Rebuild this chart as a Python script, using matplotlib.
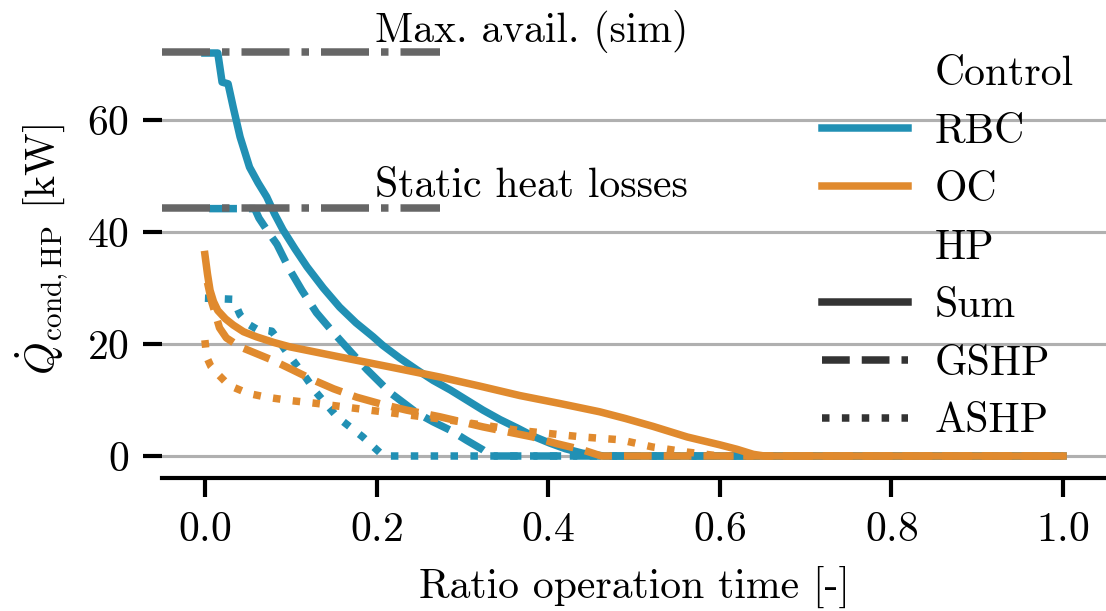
import matplotlib
matplotlib.use("Agg")
import matplotlib.pyplot as plt
from matplotlib.lines import Line2D

# Duration curves of condenser heat flow
rbc_sum_x = [0.0, 0.015, 0.02, 0.027, 0.033, 0.041, 0.052, 0.062, 0.072, 0.081, 0.091, 0.105,
             0.119, 0.138, 0.157, 0.176, 0.196, 0.207, 0.227, 0.247, 0.266, 0.286, 0.305,
             0.324, 0.344, 0.364, 0.383, 0.402, 0.42, 0.44, 0.465, 1.0]
rbc_sum_y = [72.0, 72.0, 66.8, 66.5, 62.3, 57.0, 51.6, 48.8, 46.3, 43.3, 40.4, 37.0,
             33.8, 30.0, 26.6, 23.8, 21.3, 19.8, 17.5, 15.4, 13.5, 11.8, 10.0,
             8.2, 6.5, 5.0, 3.5, 2.3, 1.3, 0.5, 0.0, 0.0]

rbc_gshp_x = [0.005, 0.058, 0.063, 0.073, 0.084, 0.098, 0.113, 0.13, 0.15, 0.17, 0.189, 0.216,
              0.247, 0.266, 0.286, 0.305, 0.324, 0.334, 1.0]
rbc_gshp_y = [44.2, 44.2, 42.5, 40.2, 37.8, 33.5, 29.6, 25.6, 22.0, 18.6, 15.4, 11.3,
              7.7, 6.1, 4.6, 2.8, 1.1, 0.0, 0.0]

rbc_ashp_x = [0.0, 0.033, 0.041, 0.05, 0.06, 0.078, 0.087, 0.096, 0.114, 0.13, 0.154, 0.184,
              0.206, 0.212, 1.0]
rbc_ashp_y = [28.2, 28.0, 25.2, 23.6, 22.7, 22.3, 20.4, 18.4, 14.8, 11.3, 7.0, 3.4,
              0.3, 0.0, 0.0]

oc_sum_x = [0.0, 0.003, 0.006, 0.01, 0.015, 0.024, 0.033, 0.045, 0.06, 0.08, 0.099, 0.128,
            0.157, 0.216, 0.274, 0.32, 0.367, 0.413, 0.46, 0.49, 0.522, 0.562, 0.6, 0.62,
            0.639, 0.652, 1.0]
oc_sum_y = [36.0, 32.5, 29.6, 27.6, 26.0, 24.5, 23.4, 22.2, 21.3, 20.3, 19.5, 18.6,
            17.7, 15.9, 14.1, 12.5, 10.8, 9.4, 7.9, 6.7, 5.3, 3.4, 2.0, 1.2,
            0.3, 0.0, 0.0]

oc_gshp_x = [0.003, 0.008, 0.012, 0.017, 0.025, 0.041, 0.06, 0.079, 0.102, 0.126, 0.15, 0.177,
             0.205, 0.235, 0.274, 0.324, 0.382, 0.41, 0.44, 0.462, 1.0]
oc_gshp_y = [31.0, 27.5, 25.5, 22.9, 21.1, 19.5, 18.3, 17.1, 15.4, 13.6, 12.0, 10.5,
             9.3, 8.2, 7.0, 5.2, 3.4, 2.2, 1.1, 0.0, 0.0]

oc_ashp_x = [0.0, 0.002, 0.007, 0.014, 0.023, 0.033, 0.05, 0.072, 0.1, 0.13, 0.207, 0.286,
             0.364, 0.44, 0.484, 0.522, 0.562, 0.6, 1.0]
oc_ashp_y = [20.7, 17.7, 16.0, 14.8, 13.4, 12.3, 11.2, 10.5, 9.9, 9.4, 7.9, 6.4,
             4.6, 3.4, 2.9, 1.6, 0.7, 0.0, 0.0]

ref_values = [72.1, 44.3]
ref_labels = ["Max. avail. (sim)", "Static heat losses"]

blue = "#2190b4"
orange = "#e08a2e"
dark = "#333333"

plt.rcParams["font.family"] = "serif"
plt.rcParams["font.serif"] = ["cmr10", "DejaVu Serif"]
plt.rcParams["mathtext.fontset"] = "cm"
plt.rcParams["axes.formatter.use_mathtext"] = True
plt.rcParams["font.size"] = 10

fig = plt.figure(figsize=(1106 / 300, 611 / 300), dpi=300)
ax = fig.add_axes([162 / 1106, 1 - 478 / 611, (1106 - 162) / 1106, (478 - 20) / 611])

lw = 1.8
ax.plot(rbc_sum_x, rbc_sum_y, color=blue, lw=lw, ls="-")
ax.plot(rbc_gshp_x, rbc_gshp_y, color=blue, lw=lw, ls="--")
ax.plot(rbc_ashp_x, rbc_ashp_y, color=blue, lw=lw, ls=":")
ax.plot(oc_sum_x, oc_sum_y, color=orange, lw=lw, ls="-")
ax.plot(oc_gshp_x, oc_gshp_y, color=orange, lw=lw, ls="--")
ax.plot(oc_ashp_x, oc_ashp_y, color=orange, lw=lw, ls=":")

# reference levels
for val, lab in zip(ref_values, ref_labels):
    ax.plot([-0.05, 0.274], [val, val], color="#666666", lw=lw, ls="-.", zorder=3)
    ax.text(0.198, val + 1.9, lab, ha="left", va="baseline")

ax.set_xlim(-0.050, 1.050)
ax.set_ylim(-3.93, 77.9)
ax.set_xticks([0.0, 0.2, 0.4, 0.6, 0.8, 1.0])
ax.set_yticks([0, 20, 40, 60])
ax.yaxis.grid(True, color="#b0b0b0", lw=0.75)
ax.set_axisbelow(True)

for side in ["top", "right", "left"]:
    ax.spines[side].set_visible(False)
ax.spines["bottom"].set_linewidth(1.0)
ax.tick_params(axis="both", length=4.5, width=1.0, color="black")

ax.set_xlabel("Ratio operation time [-]")
ax.set_ylabel(r"$\dot{Q}_\mathrm{cond,HP}$ [kW]")

handles = [
    Line2D([], [], color="none"),
    Line2D([], [], color=blue, lw=lw),
    Line2D([], [], color=orange, lw=lw),
    Line2D([], [], color="none"),
    Line2D([], [], color=dark, lw=lw, ls="-"),
    Line2D([], [], color=dark, lw=lw, ls="--"),
    Line2D([], [], color=dark, lw=lw, ls=":"),
]
labels = ["Control", "RBC", "OC", "HP", "Sum", "GSHP", "ASHP"]
ax.legend(handles, labels, loc="upper left", bbox_to_anchor=(0.699, 0.922),
          frameon=False, handlelength=2.06, handletextpad=0.65,
          labelspacing=0.49, borderpad=0, borderaxespad=0)

fig.savefig("out.png", dpi=300)
